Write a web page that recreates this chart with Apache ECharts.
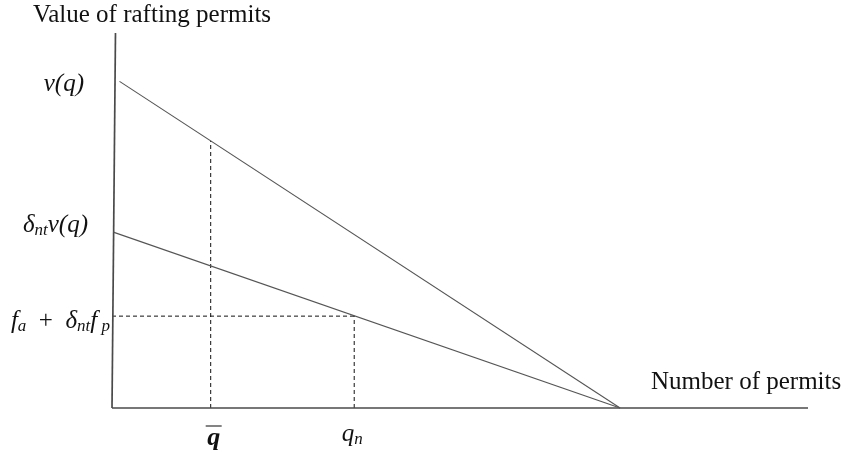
<!DOCTYPE html>
<html><head><meta charset="utf-8">
<script src="https://cdn.jsdelivr.net/npm/echarts@6/dist/echarts.min.js"></script>
<style>html,body{margin:0;padding:0;background:#fff}#c{width:845px;height:456px}</style>
</head><body><div id="c"></div>
<script>
// abstract units: permits on x (0..100), value on y (0..100)
var xMax = 100, yMax = 100;
var yAxisSeg = [[0, 0], [0.5, 100]];
var xAxisSeg = [[0, 0], [100, 0]];
var valueLine = [[1.08, 87.1], [73.0, 0]];        // v(q)
var discLine = [[0.19, 46.9], [73.0, 0]];         // delta_nt v(q)
var qBar = 14.18;
var qN = 34.8;
var feeLevel = 24.5;                               // f_a + delta_nt f_p

function onLine(seg, x) {
  var a = seg[0], b = seg[1];
  return a[1] + (b[1] - a[1]) * (x - a[0]) / (b[0] - a[0]);
}
var qBarTop = onLine(valueLine, qBar);
var qNTop = onLine(discLine, qN);

var chart = echarts.init(document.getElementById('c'), null, {renderer: 'canvas'});
var serif = '"Liberation Serif", "Times New Roman", serif';
function seg(name, data, color, width, type) {
  return {type: 'line', name: name, data: data, symbol: 'none', clip: false, silent: true,
    lineStyle: {color: color, width: width, type: type || 'solid'}, z: type ? 2 : 3};
}
chart.setOption({
  animation: false,
  backgroundColor: '#fff',
  grid: {left: 112, right: 37, top: 33, bottom: 48},
  xAxis: {type: 'value', min: 0, max: xMax, show: false},
  yAxis: {type: 'value', min: 0, max: yMax, show: false},
  series: [
    seg('yaxis', yAxisSeg, '#4a4a4a', 1.7),
    seg('xaxis', xAxisSeg, '#4a4a4a', 1.7),
    seg('v', valueLine, '#555', 1.1),
    seg('dv', discLine, '#555', 1.1),
    seg('qbar', [[qBar, 0], [qBar, qBarTop]], '#111', 1, [4, 3]),
    seg('qn', [[qN, 0], [qN, qNTop]], '#111', 1, [4, 3]),
    seg('fee', [[0, feeLevel], [qN, feeLevel]], '#111', 1, [4, 3])
  ]
});

function px(x, y) { return chart.convertToPixel({gridIndex: 0}, [x, y]); }
var i = {fontFamily: serif, fontStyle: 'italic', fontSize: 25, lineHeight: 28, verticalAlign: 'middle', fill: '#111'};
var s = {fontFamily: serif, fontStyle: 'italic', fontSize: 17, lineHeight: 14, verticalAlign: 'bottom', fill: '#111'};
var n = {fontFamily: serif, fontSize: 25, lineHeight: 28, verticalAlign: 'middle', fill: '#111'};
var rich = {i: i, s: s, n: n, b: Object.assign({}, i, {fontWeight: 'bold', fontSize: 26})};

var pV = px(0, valueLine[0][1]);
var pD = px(0, discLine[0][1]);
var pF = px(0, feeLevel);
var pQb = px(qBar, 0);
var pQn = px(qN, 0);

function rt(text, x, y, align) {
  return {type: 'text', x: x, y: y, silent: true,
    style: {text: text, rich: rich, align: align || 'center', verticalAlign: 'middle'}};
}
chart.setOption({
  graphic: [
    {type: 'text', x: 152, y: 15, style: {text: 'Value of rafting permits', fontFamily: serif, fontSize: 25, fill: '#111', align: 'center', verticalAlign: 'middle'}},
    {type: 'text', x: 651, y: 382, style: {text: 'Number of permits', fontFamily: serif, fontSize: 25, fill: '#111', align: 'left', verticalAlign: 'middle'}},
    rt('{i|v(q)}', pV[0] - 28, pV[1] + 3, 'right'),
    rt('{i|δ}{s|nt}{i|v(q)}', pD[0] - 24, pD[1] - 7, 'right'),
    rt('{i|f}{s|a}{n|  +  }{i|δ}{s|nt}{i|f}{s| p}', pF[0] - 2, pF[1] + 5, 'right'),
    rt('{b|q}', pQb[0] + 3, pQb[1] + 30, 'center'),
    {type: 'line', silent: true, shape: {x1: pQb[0] - 5, y1: pQb[1] + 18, x2: pQb[0] + 11, y2: pQb[1] + 18}, style: {stroke: '#333', lineWidth: 1.2}},
    rt('{i|q}{s|n}', pQn[0] - 2, pQn[1] + 26, 'center')
  ]
});
</script>
</body></html>
